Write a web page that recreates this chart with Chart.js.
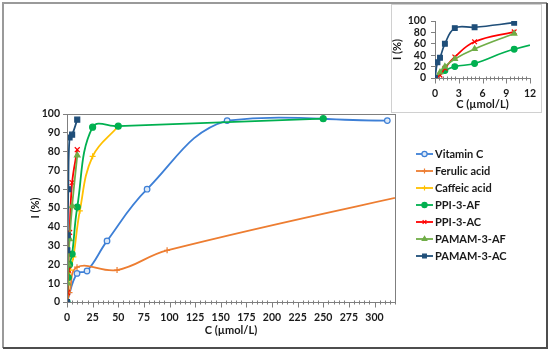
<!DOCTYPE html>
<html>
<head>
<meta charset="utf-8">
<script src="https://cdn.jsdelivr.net/npm/chart.js@4.4.1/dist/chart.umd.min.js"></script>
<style>
  html, body { margin: 0; padding: 0; background: #fff; }
  #wrap { position: relative; width: 550px; height: 351px; }
  #mainBox { position: absolute; left: 0; top: 0; width: 550px; height: 351px; }
  #insetBox { position: absolute; left: 391px; top: 4px; width: 151px; height: 109px; background: #fff; }
</style>
</head>
<body>
<div id="wrap">
  <div id="mainBox"><canvas id="mainChart"></canvas></div>
  <div id="insetBox"><canvas id="insetChart"></canvas></div>
</div>
<script>
// Concentracions (µmol/L) i inhibició (%) per mostra
const xVitC = [0, 9.77, 19.53, 39.06, 78.13, 156.25, 312.5];
const yVitC = [0, 15.2, 16.5, 32.5, 60, 96.5, 96.5];
const xFer = [0, 2.44, 9.77, 48.83, 97.66, 390.63];
const yFer = [0, 5, 18.5, 17, 27.5, 64];
const xCaf = [0, 3.13, 6.25, 12.5, 25, 50];
const yCaf = [0, 17, 24, 48.5, 77.5, 93.5];
const xPpiAf = [0, 1.25, 2.5, 5, 10, 25, 50, 250];
const yPpiAf = [0, 13, 20, 25.5, 50.5, 93, 93.5, 97.5];
const xPpiAc = [0, 0.63, 1.25, 2.5, 5, 10];
const yPpiAc = [0, 5, 17, 37, 63.5, 81];
const xPamAf = [0, 0.63, 1.25, 2.5, 5, 10];
const yPamAf = [0, 10, 20, 33.5, 51, 78];
const xPamAc = [0, 0.31, 0.63, 1.25, 2.5, 5, 10];
const yPamAc = [0, 27.5, 35.5, 60, 87.5, 89, 97];

const seriesNames = ['Vitamin C', 'Ferulic acid', 'Caffeic acid', 'PPI-3-AF', 'PPI-3-AC', 'PAMAM-3-AF', 'PAMAM-3-AC'];
const mainXTicks = [0, 25, 50, 75, 100, 125, 150, 175, 200, 225, 250, 275, 300];
const mainYTicks = [0, 10, 20, 30, 40, 50, 60, 70, 80, 90, 100];
const insetXTicks = [0, 3, 6, 9, 12];
const insetYTicks = [0, 20, 40, 60, 80, 100];

const FONT = 'Lato, "Liberation Sans", sans-serif';
const TXT = '#1a1a1a';

function pts(xs, ys) {
  return xs.map((x, i) => ({ x: x, y: ys[i] }));
}

const styles = [
  { color: '#3d7fd6', point: 'circle', fill: '#dce9f8', r: 2.8 },
  { color: '#ed7d31', point: 'cross', fill: '#ed7d31', r: 3 },
  { color: '#ffc000', point: 'cross', fill: '#ffc000', r: 3 },
  { color: '#00b050', point: 'circle', fill: '#00b050', r: 3 },
  { color: '#ff0000', point: 'crossRot', fill: '#ff0000', r: 3.5 },
  { color: '#70ad47', point: 'triangle', fill: '#70ad47', r: 3.2 },
  { color: '#1f4e79', point: 'rect', fill: '#1f4e79', r: 3.5 }
];

const allData = [
  pts(xVitC, yVitC), pts(xFer, yFer), pts(xCaf, yCaf), pts(xPpiAf, yPpiAf),
  pts(xPpiAc, yPpiAc), pts(xPamAf, yPamAf), pts(xPamAc, yPamAc)
];

function makeDataset(i, scale) {
  const s = styles[i];
  return {
    label: seriesNames[i],
    data: allData[i],
    borderColor: s.color,
    backgroundColor: s.fill,
    borderWidth: 1.8 * scale,
    pointStyle: s.point,
    pointRadius: s.r * scale,
    pointBorderColor: s.color,
    pointBackgroundColor: s.fill,
    pointBorderWidth: 1.2,
    tension: 0.4,
    fill: false,
    order: seriesNames.length - i
  };
}

// Vores i marques menors dibuixades amb les escales de Chart.js
function framePlugin(opts) {
  return {
    id: 'frame',
    beforeDraw(chart) {
      const ctx = chart.ctx;
      ctx.save();
      if (opts.outer) {
        ctx.lineWidth = 2;
        ctx.strokeStyle = '#9a9a9a';
        ctx.beginPath();
        ctx.moveTo(3, 348); ctx.lineTo(3, 3); ctx.lineTo(547, 3);
        ctx.stroke();
        ctx.strokeStyle = '#4d4d4d';
        ctx.beginPath();
        ctx.moveTo(547, 3); ctx.lineTo(547, 348); ctx.lineTo(3, 348);
        ctx.stroke();
      }
      if (opts.box) {
        ctx.lineWidth = 1;
        ctx.strokeStyle = '#d0d0d0';
        ctx.strokeRect(0.5, 0.5, chart.width - 1, chart.height - 1);
      }
      ctx.restore();
    },
    afterDraw(chart) {
      const ctx = chart.ctx;
      const a = chart.chartArea;
      const xs = chart.scales.x;
      ctx.save();
      ctx.strokeStyle = '#7f7f7f';
      ctx.lineWidth = 1;
      if (opts.plotBorder) {
        ctx.strokeRect(Math.round(a.left) + 0.5, Math.round(a.top) + 0.5,
          Math.round(a.right - a.left), Math.round(a.bottom - a.top));
      }
      const base = Math.round(a.bottom) + 0.5;
      for (let v = xs.min; v <= xs.max + 1e-9; v += opts.minorStep) {
        const px = Math.round(xs.getPixelForValue(v)) + 0.5;
        const isMajor = Math.abs(v / opts.majorStep - Math.round(v / opts.majorStep)) < 1e-6;
        ctx.beginPath();
        ctx.moveTo(px, base - (isMajor ? 0 : 2));
        ctx.lineTo(px, base + (isMajor ? 5 : 2));
        ctx.stroke();
      }
      ctx.restore();
    }
  };
}

const legendPlugin = {
  id: 'lineLegend',
  afterDraw(chart) {
    const ctx = chart.ctx;
    const x0 = 416, y0 = 154, gap = 17;
    ctx.save();
    chart.data.datasets.forEach((ds, i) => {
      const y = y0 + i * gap;
      ctx.strokeStyle = ds.borderColor;
      ctx.lineWidth = 1.8;
      ctx.beginPath();
      ctx.moveTo(x0, y); ctx.lineTo(x0 + 17, y);
      ctx.stroke();
      ctx.fillStyle = ds.pointBackgroundColor;
      ctx.strokeStyle = ds.pointBorderColor;
      ctx.lineWidth = 1.2;
      Chart.helpers.drawPoint(ctx, { pointStyle: ds.pointStyle, radius: 2.6, rotation: 0, borderWidth: 1.2 }, x0 + 8.5, y);
      ctx.fillStyle = TXT;
      ctx.font = 'bold 11px ' + FONT;
      ctx.textBaseline = 'middle';
      ctx.fillText(ds.label, x0 + 19, y + 0.5);
    });
    ctx.restore();
  }
};

function tickOpts(size) {
  return { color: TXT, font: { family: FONT, size: size, weight: 'bold' } };
}

new Chart(document.getElementById('mainChart'), {
  type: 'line',
  data: { datasets: seriesNames.map((n, i) => makeDataset(i, 1)) },
  options: {
    responsive: true,
    maintainAspectRatio: false,
    animation: false,
    layout: { padding: { left: 16, top: 114, right: 155, bottom: 12 } },
    plugins: { legend: { display: false }, tooltip: { enabled: false } },
    scales: {
      x: {
        type: 'linear',
        min: 0, max: 320,
        afterFit: (s) => { s.height = 37; },
        afterBuildTicks: (s) => { s.ticks = mainXTicks.map(v => ({ value: v })); },
        ticks: Object.assign(tickOpts(10.5), { padding: 1, maxRotation: 0, autoSkip: false }),
        grid: { display: false, drawTicks: true, tickLength: 8 },
        border: { display: true, color: '#7f7f7f' },
        title: { display: true, text: 'C (µmol/L)', color: TXT, font: { family: FONT, size: 11, weight: 'bold' }, padding: { top: 2, bottom: 2 } }
      },
      y: {
        min: 0, max: 100,
        afterFit: (s) => { s.width = 51; },
        afterBuildTicks: (s) => { s.ticks = mainYTicks.map(v => ({ value: v })); },
        ticks: Object.assign(tickOpts(10.5), { padding: 3, autoSkip: false }),
        grid: { drawOnChartArea: false, drawTicks: true, tickLength: 4, color: '#7f7f7f' },
        border: { display: true, color: '#7f7f7f' },
        title: { display: true, text: 'I (%)', color: TXT, font: { family: FONT, size: 11, weight: 'bold' }, padding: { top: 13, bottom: 2 } }
      }
    }
  },
  plugins: [framePlugin({ outer: true, plotBorder: true, minorStep: 5, majorStep: 25 }), legendPlugin]
});

const insetIdx = [3, 4, 5, 6];
new Chart(document.getElementById('insetChart'), {
  type: 'line',
  data: { datasets: insetIdx.map(i => makeDataset(i, 0.95)) },
  options: {
    responsive: true,
    maintainAspectRatio: false,
    animation: false,
    layout: { padding: { left: 0, top: 17, right: 12, bottom: 2 } },
    plugins: { legend: { display: false }, tooltip: { enabled: false } },
    scales: {
      x: {
        type: 'linear',
        min: 0, max: 12,
        afterFit: (s) => { s.height = 33; },
        afterBuildTicks: (s) => { s.ticks = insetXTicks.map(v => ({ value: v })); },
        ticks: Object.assign(tickOpts(10.5), { padding: 1, maxRotation: 0, autoSkip: false }),
        grid: { display: false, drawTicks: true, tickLength: 8 },
        border: { display: true, color: '#7f7f7f' },
        title: { display: true, text: 'C (µmol/L)', color: TXT, font: { family: FONT, size: 11, weight: 'bold' }, padding: { top: 0, bottom: 0 } }
      },
      y: {
        min: 0, max: 100,
        afterFit: (s) => { s.width = 44; },
        afterBuildTicks: (s) => { s.ticks = insetYTicks.map(v => ({ value: v })); },
        ticks: Object.assign(tickOpts(10.5), { padding: 5, autoSkip: false }),
        grid: { drawOnChartArea: false, drawTicks: true, tickLength: 4, color: '#7f7f7f' },
        border: { display: true, color: '#7f7f7f' },
        title: { display: true, text: 'I (%)', color: TXT, font: { family: FONT, size: 11, weight: 'bold' }, padding: { top: 0, bottom: 0 } }
      }
    }
  },
  plugins: [framePlugin({ box: true, plotBorder: false, minorStep: 0.5, majorStep: 3 })]
});
</script>
</body>
</html>
